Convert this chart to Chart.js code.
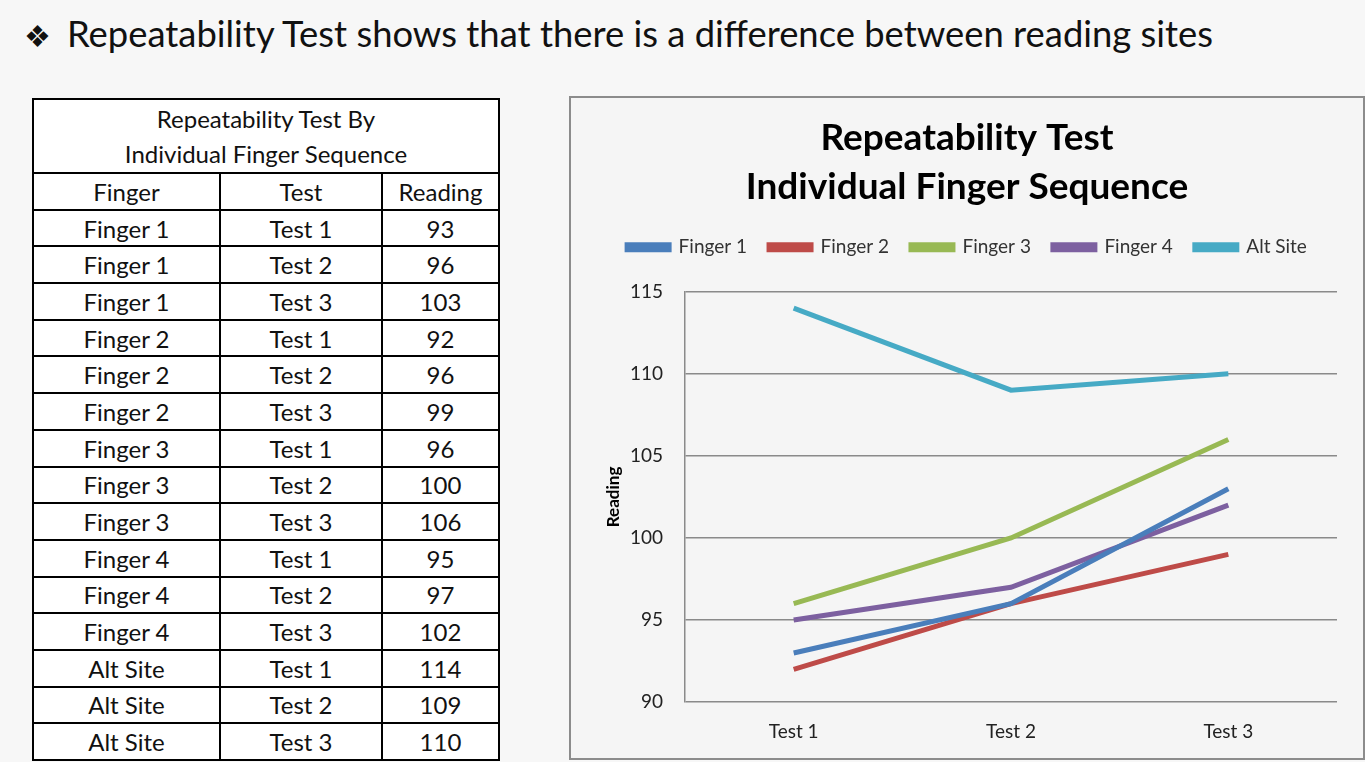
<!DOCTYPE html>
<html>
<head>
<meta charset="utf-8">
<script src="https://cdn.jsdelivr.net/npm/chart.js@4"></script>
<style>
  body { margin: 0; background: #f7f7f7; font-family: Lato, "Open Sans", sans-serif; width: 1365px; height: 762px; overflow: hidden; position: relative; }
  #headline { position: absolute; left: 24px; top: 11px; font-size: 36.4px; color: #111; white-space: nowrap; }
  #headline .bullet { font-size: 30px; margin-right: 16px; }
  #tbl { position: absolute; left: 32px; top: 98px; border-collapse: collapse; background: #fff; font-size: 24px; color: #111; }
  #tbl td { border: 2px solid #000; text-align: center; padding: 0; height: 34.7px; line-height: 33px; }
  #tbl .cap td { height: 72px; line-height: 35px; }
  #box { position: absolute; left: 569px; top: 96px; width: 792px; height: 660px; border: 2px solid #8c8c8c; background: #f5f5f5; }
</style>
</head>
<body>
<div id="headline"><span class="bullet">❖</span>Repeatability Test shows that there is a difference between reading sites</div>
<table id="tbl">
  <tr class="cap"><td colspan="3">Repeatability Test By<br>Individual Finger Sequence</td></tr>
  <tr><td style="width:185px">Finger</td><td style="width:160px">Test</td><td style="width:115px">Reading</td></tr>
  <tbody id="rows"></tbody>
</table>
<div id="box"><canvas id="chart"></canvas></div>
<script>
// data
const tests = ["Test 1", "Test 2", "Test 3"];
const seriesNames = ["Finger 1", "Finger 2", "Finger 3", "Finger 4", "Alt Site"];
const finger1 = [93, 96, 103];
const finger2 = [92, 96, 99];
const finger3 = [96, 100, 106];
const finger4 = [95, 97, 102];
const altSite = [114, 109, 110];
const yTicks = [90, 95, 100, 105, 110, 115];

const seriesValues = [finger1, finger2, finger3, finger4, altSite];
const colors = ["#4a7ebb", "#be4b48", "#98b954", "#7d60a0", "#46aac5"];

// table rows from the same arrays
const tbody = document.getElementById("rows");
seriesNames.forEach((name, i) => {
  tests.forEach((t, j) => {
    const tr = document.createElement("tr");
    [name, t, seriesValues[i][j]].forEach(v => {
      const td = document.createElement("td");
      td.textContent = v;
      tr.appendChild(td);
    });
    tbody.appendChild(tr);
  });
});

const gridColor = "#8a8a8a";

// extra room under the legend
const legendGap = {
  id: "legendGap",
  beforeInit(chart) {
    const fit = chart.legend.fit;
    chart.legend.fit = function () {
      fit.bind(chart.legend)();
      this.height += 25;
    };
  }
};

new Chart(document.getElementById("chart"), {
  type: "line",
  data: {
    labels: tests,
    datasets: seriesNames.map((name, i) => ({
      label: name,
      data: seriesValues[i],
      borderColor: colors[i],
      backgroundColor: colors[i],
      borderWidth: 5,
      pointRadius: 0,
      tension: 0
    }))
  },
  options: {
    responsive: true,
    maintainAspectRatio: false,
    animation: false,
    layout: { padding: { left: 11, right: 11, top: 0, bottom: 5 } },
    plugins: {
      title: {
        display: true,
        text: ["Repeatability Test", "Individual Finger Sequence"],
        color: "#000",
        font: { family: "Lato", size: 37, weight: "bold", lineHeight: 1.32 },
        padding: { top: 16, bottom: 4 }
      },
      legend: {
        labels: {
          color: "#333",
          font: { family: "Lato", size: 19 },
          boxWidth: 42,
          boxHeight: 5,
          padding: 22
        }
      },
      tooltip: { enabled: false }
    },
    scales: {
      x: {
        offset: true,
        grid: { display: false },
        border: { display: false },
        ticks: { color: "#222", font: { family: "Lato", size: 19 }, padding: 10 }
      },
      y: {
        min: yTicks[0],
        max: yTicks[yTicks.length - 1],
        afterBuildTicks: (axis) => { axis.ticks = yTicks.map(v => ({ value: v })); },
        afterFit: (axis) => { axis.width = 103; },
        grid: { color: gridColor, lineWidth: 1.5, drawTicks: false },
        border: { color: gridColor, width: 1.5 },
        ticks: { color: "#222", font: { family: "Lato", size: 19 }, padding: 22 },
        title: {
          display: true,
          text: "Reading",
          color: "#000",
          font: { family: "Lato", size: 17, weight: "bold" },
          padding: { top: 21, bottom: 0 }
        }
      },
      // empty right margin so the plot stops where the slide's does
      yRight: {
        position: "right",
        min: yTicks[0],
        max: yTicks[yTicks.length - 1],
        afterFit: (axis) => { axis.width = 15; },
        grid: { display: false },
        border: { display: false },
        ticks: { display: false }
      }
    }
  },
  plugins: [legendGap]
});
</script>
</body>
</html>
